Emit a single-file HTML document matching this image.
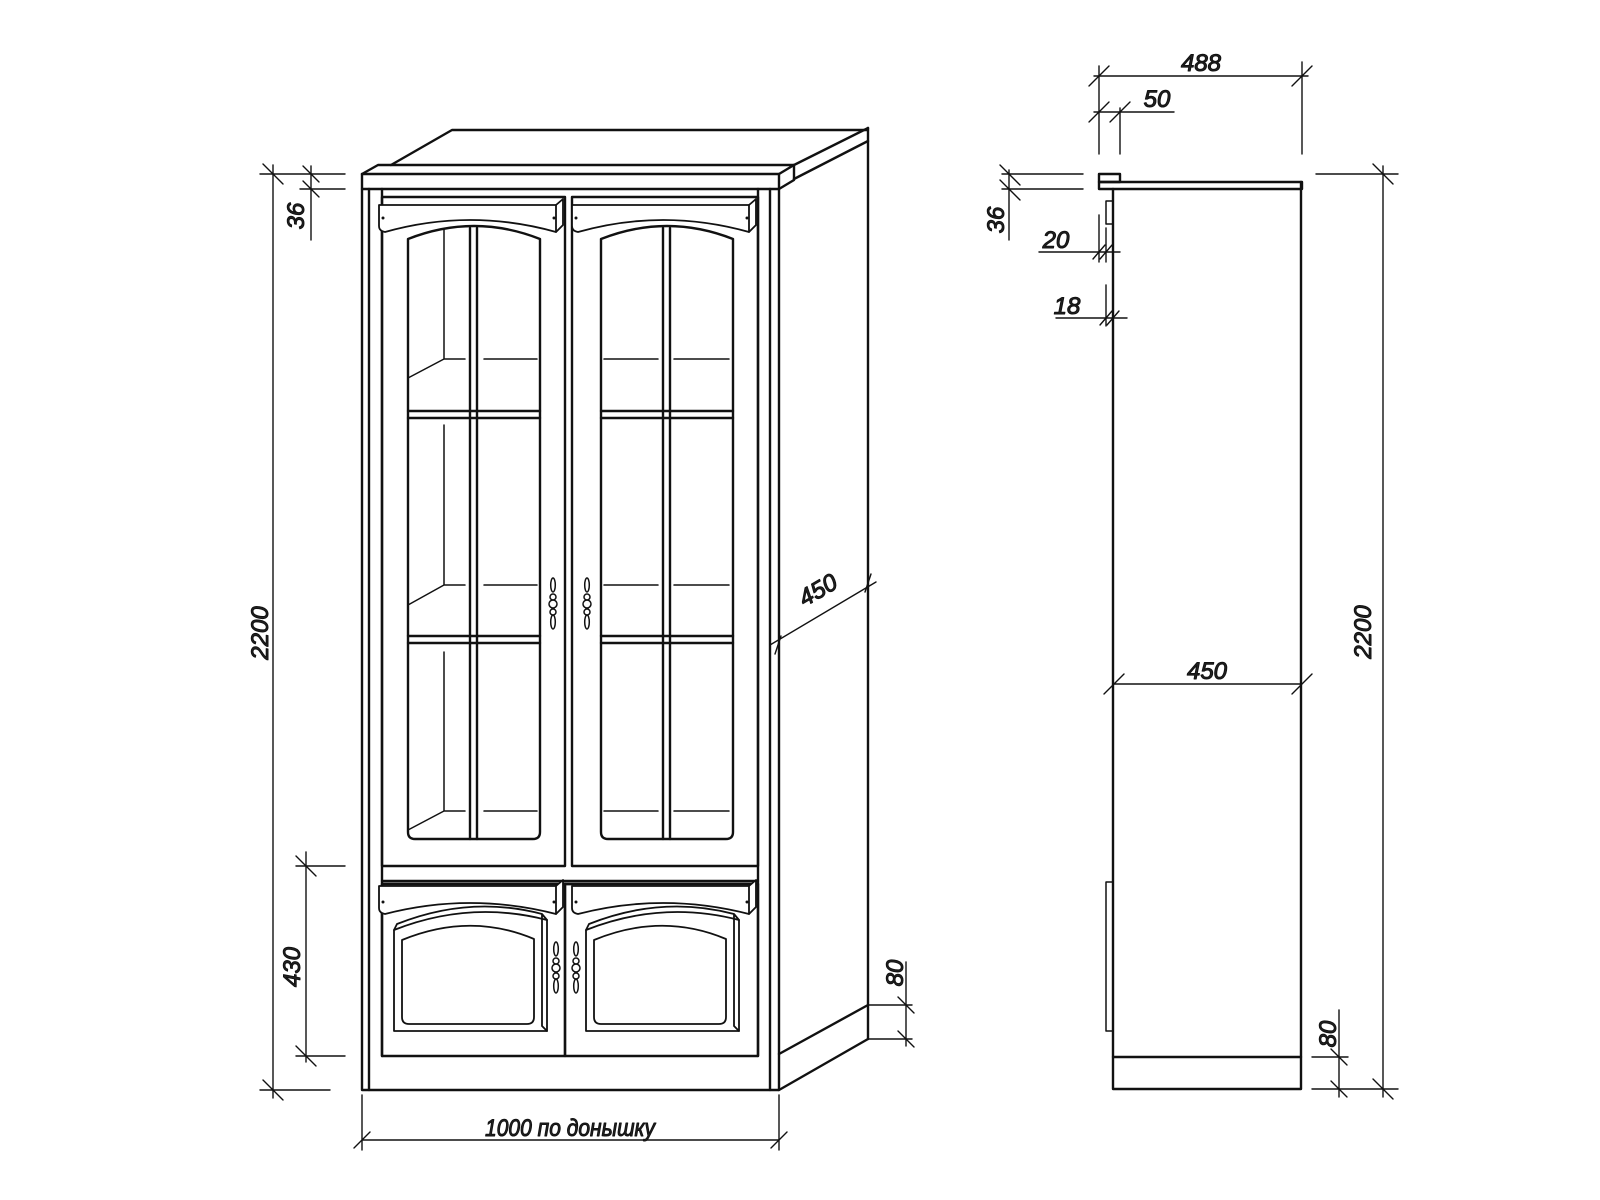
<!DOCTYPE html>
<html><head><meta charset="utf-8"><style>
html,body{margin:0;padding:0;background:#fff}
svg{display:block}
text{font-family:"Liberation Sans",sans-serif;font-style:italic;fill:#222}
</style></head><body>
<svg width="1600" height="1200" viewBox="0 0 1600 1200" xmlns="http://www.w3.org/2000/svg">
<g fill="none" stroke="#111" stroke-linejoin="round" stroke-linecap="round">

<!-- ===== FRONT VIEW ===== -->
<g stroke-width="2.4">
<path d="M391,165 L452,130 L868,130"/>
<path d="M794,165 L868,128"/>
<path d="M794,179 L868,141"/>
<path d="M868,128 L868,1039"/>
<path d="M779,1090 L868,1039"/>
<path d="M779,1054 L868,1005"/>
<path d="M362,174 L378,165 L794,165 L779,174"/>
<rect x="362" y="174" width="417" height="15"/>
<path d="M794,165 L794,180 L779,189"/>
<path d="M362,189 L362,1090 L779,1090 L779,189"/>
<path d="M369,189 V1090 M770,189 V1090"/>
<path d="M382,189 V1056 M758,189 V1056"/>
<rect x="382" y="197" width="183" height="669"/>
<rect x="572" y="197" width="186" height="669"/>
<path d="M382,881 H758 M382,884 H758"/>
<rect x="382" y="884" width="183" height="172"/>
<rect x="565" y="884" width="193" height="172"/>
</g>

<g stroke-width="1.8" fill="#fff">
<path d="M379,205 L556,205 L563,199 L563,225 L556,232 Q470,208 385,232 Q379,231 379,226 Z"/>
<path d="M556,205 V232"/>
<path d="M572,205 L749,205 L756,199 L756,225 L749,232 Q663,208 578,232 Q572,231 572,226 Z"/>
<path d="M749,205 V232"/>
<path d="M379,886 L556,886 L563,880 L563,907 L556,914 Q470,892 385,914 Q379,913 379,908 Z"/>
<path d="M556,886 V914"/>
<path d="M572,886 L749,886 L756,880 L756,907 L749,914 Q663,892 578,914 Q572,913 572,908 Z"/>
<path d="M749,886 V914"/>
</g>
<g fill="#111" stroke="none">
<circle cx="383" cy="218" r="1.5"/><circle cx="554" cy="218" r="1.5"/>
<circle cx="576" cy="218" r="1.5"/><circle cx="747" cy="218" r="1.5"/>
<circle cx="383" cy="902" r="1.5"/><circle cx="554" cy="902" r="1.5"/>
<circle cx="576" cy="902" r="1.5"/><circle cx="747" cy="902" r="1.5"/>
</g>

<g stroke-width="2.4">
<path d="M408,239 Q474,213 540,239 L540,832 Q540,839 533,839 L415,839 Q408,839 408,832 Z"/>
<path d="M601,239 Q667,213 733,239 L733,832 Q733,839 726,839 L608,839 Q601,839 601,832 Z"/>
<path d="M470,228 V839 M477,228 V839 M663,228 V839 M670,228 V839"/>
<path d="M408,411 H540 M408,418 H540 M408,636 H540 M408,643 H540"/>
<path d="M601,411 H733 M601,418 H733 M601,636 H733 M601,643 H733"/>
</g>
<g stroke-width="1.5">
<path d="M444,230 V359 L408,378 M444,359 H465 M484,359 H537"/>
<path d="M444,425 V585 L408,605 M444,585 H465 M484,585 H537"/>
<path d="M444,652 V811 L408,830 M444,811 H465 M484,811 H537"/>
<path d="M604,359 H658 M674,359 H729 M604,585 H658 M674,585 H729 M604,811 H658 M674,811 H729"/>
</g>

<g stroke-width="1.8">
<path d="M394,930 Q470,900 547,920 L547,1031 L394,1031 Z"/>
<path d="M394,930 L397,924 Q470,895 542,914 L547,920 M547,1031 L542,1026 L542,914"/>
<path d="M402,940 Q470,912 534,939 L534,1017 Q534,1024 527,1024 L409,1024 Q402,1024 402,1017 Z"/>
<path d="M586,930 Q662,900 739,920 L739,1031 L586,1031 Z"/>
<path d="M586,930 L589,924 Q662,895 734,914 L739,920 M739,1031 L734,1026 L734,914"/>
<path d="M594,940 Q662,912 726,939 L726,1017 Q726,1024 719,1024 L601,1024 Q594,1024 594,1017 Z"/>
</g>

<g stroke-width="1.5">
<g id="h1">
<ellipse cx="553" cy="585" rx="2.3" ry="7"/>
<circle cx="553" cy="597" r="3"/>
<circle cx="553" cy="604" r="4"/>
<circle cx="553" cy="612" r="3"/>
<ellipse cx="553" cy="622" rx="2.3" ry="7"/>
</g>
<use href="#h1" x="34"/>
<use href="#h1" x="3" y="364"/>
<use href="#h1" x="23" y="364"/>
</g>

<g stroke-width="1.4">
<path d="M273,165 V1098 M260,174 H345 M260,1090 H330"/>
<path d="M263,164 L283,184 M263,1080 L283,1100"/>
<path d="M311,166 V240 M300,189 H345"/>
<path d="M303,166 L319,182 M303,181 L319,197"/>
<path d="M306,852 V1062 M296,866 H345 M296,1056 H345"/>
<path d="M296,856 L316,876 M296,1046 L316,1066"/>
<path d="M362,1095 V1150 M779,1095 V1150 M362,1140 H779"/>
<path d="M354,1148 L370,1132 M771,1148 L787,1132"/>
<path d="M770,645 L876,582"/>
<path d="M775,654 L781,636 M865,592 L871,574"/>
<path d="M868,1005 H912 M868,1039 H912 M906,962 V1046"/>
<path d="M898,997 L914,1013 M898,1031 L914,1047"/>
</g>
<g font-size="24">
<text transform="translate(268,633) rotate(-90)" text-anchor="middle">2200</text>
<text transform="translate(304,216) rotate(-90)" text-anchor="middle">36</text>
<text transform="translate(300,967) rotate(-90)" text-anchor="middle">430</text>
<text x="485" y="1136" textLength="170" lengthAdjust="spacingAndGlyphs">1000 по донышку</text>
<text transform="translate(822,597) rotate(-30)" text-anchor="middle">450</text>
<text transform="translate(903,973) rotate(-90)" text-anchor="middle">80</text>
</g>

<!-- ===== SIDE VIEW ===== -->
<g stroke-width="2.4">
<rect x="1099" y="174" width="21" height="8"/>
<rect x="1099" y="182" width="203" height="7"/>
<path d="M1113,189 V1089 H1301 V182"/>
<path d="M1113,1057 H1301"/>
</g>
<g stroke-width="1.5">
<rect x="1106" y="201" width="7" height="23"/>
<rect x="1106" y="882" width="7" height="149"/>
</g>
<g stroke-width="1.4">
<path d="M1099,66 V154 M1302,62 V154 M1094,76 H1308"/>
<path d="M1089,86 L1109,66 M1292,86 L1312,66"/>
<path d="M1120,108 V154 M1094,112 H1174"/>
<path d="M1089,122 L1109,102 M1110,122 L1130,102"/>
<path d="M1002,174 H1083 M1002,189 H1083 M1009,170 V240"/>
<path d="M1000,165 L1020,185 M1000,180 L1020,200"/>
<path d="M1039,252 H1120 M1099,215 V262 M1106,228 V262"/>
<path d="M1093,259 L1105,245 M1100,259 L1112,245"/>
<path d="M1056,318 H1127 M1106,285 V326 M1113,285 V326"/>
<path d="M1100,325 L1112,311 M1107,325 L1119,311"/>
<path d="M1316,174 H1398 M1312,1089 H1398 M1383,166 V1097"/>
<path d="M1373,164 L1393,184 M1373,1079 L1393,1099"/>
<path d="M1113,684 H1301"/>
<path d="M1104,694 L1124,674 M1292,694 L1312,674"/>
<path d="M1312,1057 H1348 M1339,1010 V1097"/>
<path d="M1331,1049 L1347,1065 M1331,1081 L1347,1097"/>
</g>
<g font-size="24">
<text x="1201" y="71" text-anchor="middle">488</text>
<text x="1157" y="107" text-anchor="middle">50</text>
<text transform="translate(1004,220) rotate(-90)" text-anchor="middle">36</text>
<text x="1056" y="248" text-anchor="middle">20</text>
<text x="1067" y="314" text-anchor="middle">18</text>
<text transform="translate(1371,632) rotate(-90)" text-anchor="middle">2200</text>
<text x="1207" y="679" text-anchor="middle">450</text>
<text transform="translate(1336,1034) rotate(-90)" text-anchor="middle">80</text>
</g>
</g>
</svg>
</body></html>
